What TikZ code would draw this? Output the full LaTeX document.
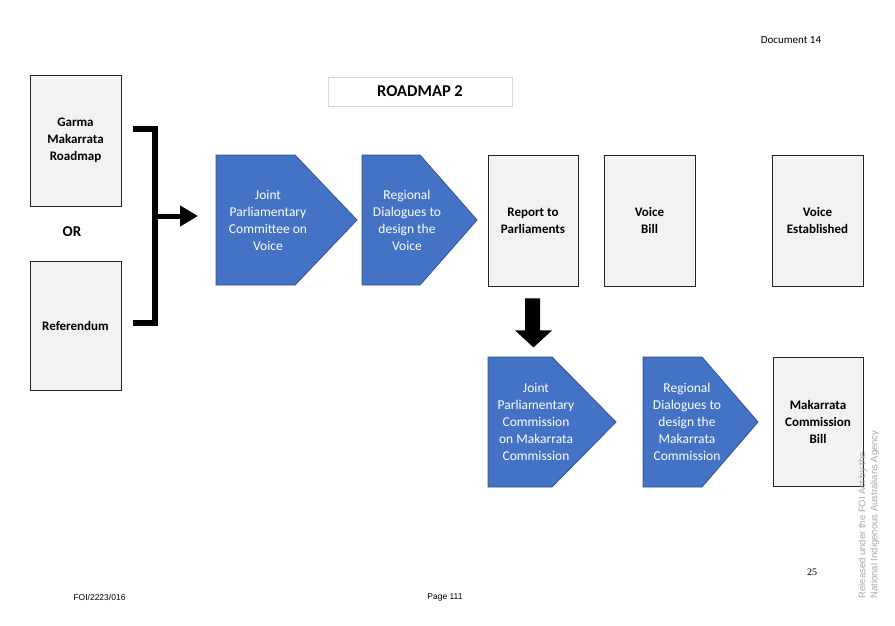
\documentclass[tikz,border=0pt]{standalone}
\usepackage{fontspec}
\setmainfont{Carlito}
\newfontfamily\arialfont{Liberation Sans}
\newfontfamily\timesfont{Liberation Serif}
\usetikzlibrary{shapes,arrows.meta,positioning,calc}
\definecolor{boxgray}{HTML}{F2F2F2}
\definecolor{stageblue}{HTML}{4472C4}
\definecolor{stageedge}{HTML}{2F528F}

\begin{document}
\begin{tikzpicture}[x=1pt,y=-1pt]
  \tikzstyle{box}=[rectangle, draw=black!85, fill=boxgray, line width=0.8pt, minimum width=91pt, minimum height=131pt, font=\fontsize{13}{17}\selectfont\bfseries, align=center, inner sep=0pt]
  \tikzstyle{stage}=[draw=stageedge, fill=stageblue, line width=0.8pt, line join=miter]
  \tikzstyle{stagetext}=[text=white, font=\fontsize{13.5}{17}\selectfont, align=center, inner sep=0pt]
  \useasboundingbox (0,0) rectangle (895,625);

  % Pagina
  \node[font=\fontsize{11}{13}\selectfont] (doc) at (791,40) {Document 14};
  \node[rectangle, draw=black!15, minimum width=184pt, minimum height=29pt, font=\fontsize{16.5}{20}\selectfont\bfseries] (title) at (420,91.5) {ROADMAP 2};

  % Punto de partida
  \node[box] (garma) at (75.5,140.5) {Garma\\Makarrata\\Roadmap};
  \node[font=\fontsize{15}{18}\selectfont\bfseries] (or) at (72,232) {OR};
  \node[box, minimum height=129pt] (ref) at (75.5,325.5) {Referendum};

  % Camino de la Voz
  \coordinate (jpcvin) at (216,220);
  \draw[stage] (216,155) -- ++(79,0) -- ++(62,65) -- ++(-62,65) -- ++(-79,0) -- cycle;
  \node[stagetext] (jpcv) at (268,220) {Joint\\Parliamentary\\Committee on\\Voice};
  \draw[stage] (362,155) -- ++(58,0) -- ++(57,65) -- ++(-57,65) -- ++(-58,0) -- cycle;
  \node[stagetext] (rdv) at (407,220) {Regional\\Dialogues to\\design the\\Voice};
  \node[box, minimum width=90pt] (rep) at (533,220.5) {Report to\\Parliaments};
  \node[box] (bill) at (649.5,220.5) {Voice\\Bill};
  \node[box] (est) at (817.5,220.5) {Voice\\Established};

  % Camino de la Comision
  \draw[stage] (488,357) -- ++(64,0) -- ++(64,65) -- ++(-64,65) -- ++(-64,0) -- cycle;
  \node[stagetext] (jpcm) at (536,422) {Joint\\Parliamentary\\Commission\\on Makarrata\\Commission};
  \draw[stage] (643,357) -- ++(59,0) -- ++(56,65) -- ++(-56,65) -- ++(-59,0) -- cycle;
  \node[stagetext] (rdm) at (687,422) {Regional\\Dialogues to\\design the\\Makarrata\\Commission};
  \node[box, minimum width=90pt, minimum height=129pt] (mcb) at (818,421.5) {Makarrata\\Commission\\Bill};

  % Corchete y flechas
  \coordinate (brtop) at (133,128.5);
  \coordinate (brbot) at (133,323);
  \coordinate (brmid) at (155,216);
  \draw[line width=6pt] (brtop) -- (155,128.5) -- (155,323) -- (brbot);
  \draw[line width=5pt, -{Triangle[length=18pt,width=20pt]}] (brmid) -- ([xshift=-18pt]brmid -| jpcvin);
  \fill ($(rep.south)+(-8,12)$) -- ++(15,0) -- ++(0,32) -- ++(12,0) -- ($(rep.south)+(0.5,61)$) -- ($(rep.south)+(-18,44)$) -- ($(rep.south)+(-8,44)$) -- cycle;

  % Marca de agua
  \node[rotate=90, anchor=north west, align=left, text=black!35, font=\arialfont\fontsize{9.5}{12}\selectfont] (mark) at (855,602) {Released under the FOI Act by the\\National Indigenous Australians Agency};

  % Pie
  \node[font=\arialfont\fontsize{8.5}{10}\selectfont] (foi) at (99.5,597) {FOI/2223/016};
  \node[font=\arialfont\fontsize{8.5}{10}\selectfont] (page) at (445,597) {Page 111};
  \node[font=\timesfont\fontsize{10}{12}\selectfont] (num) at (812,572) {25};
\end{tikzpicture}
\end{document}
